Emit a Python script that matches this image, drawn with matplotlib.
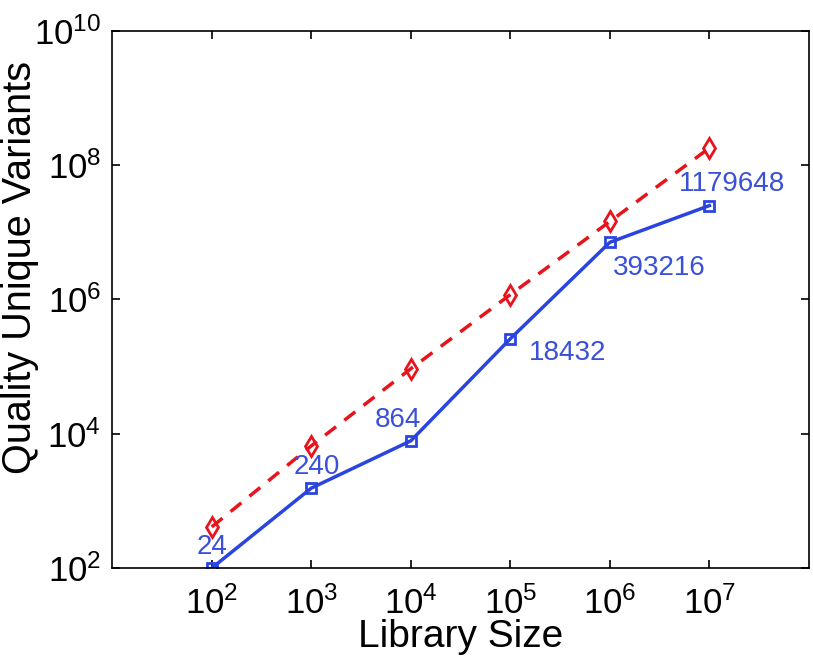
import matplotlib
matplotlib.use("Agg")
import matplotlib.pyplot as plt
from matplotlib.ticker import NullLocator

plt.rcParams['font.family'] = ['Liberation Sans', 'DejaVu Sans']
plt.rcParams['mathtext.fontset'] = 'custom'
plt.rcParams['mathtext.rm'] = 'Liberation Sans'
plt.rcParams['mathtext.it'] = 'Liberation Sans'

lib_size = [1e2, 1e3, 1e4, 1e5, 1e6, 1e7]
blue_vals = [100, 1550, 7850, 2.6e5, 7.1e6, 2.5e7]
red_vals = [410, 6600, 9.3e4, 1.18e6, 1.45e7, 1.8e8]
labels = ['24', '240', '864', '18432', '393216', '1179648']
# label offsets in points (dx, dy) and alignment
label_pos = [(0, 6, 'center', 'bottom'),
             (4, 6, 'center', 'bottom'),
             (-9, 6, 'center', 'bottom'),
             (13, -1, 'left', 'top'),
             (2, -9, 'left', 'top'),
             (-22, 6, 'left', 'bottom')]

blue = '#2a44e0'
red = '#e8141c'

W, H = 813, 656
fig = plt.figure(figsize=(W / 100, H / 100), dpi=100)
ax = fig.add_axes([0.138, 0.134, 0.857, 0.819])

ax.plot(lib_size, red_vals, '--', color=red, lw=2.5, dashes=(4, 3),
        marker='d', ms=10, mfc='none', mec=red, mew=2)
ax.plot(lib_size, blue_vals, '-', color=blue, lw=2.5,
        marker='s', ms=7, mfc='none', mec=blue, mew=2)

for x, y, t, (dx, dy, ha, va) in zip(lib_size, blue_vals, labels, label_pos):
    ax.annotate(t, (x, y), xytext=(dx, dy), textcoords='offset points',
                ha=ha, va=va, color='#3a50d8', fontsize=20)

ax.set_xscale('log')
ax.set_yscale('log')
ax.set_xlim(1e1, 1e8)
ax.set_ylim(1e2, 1e10)
ax.set_xticks(lib_size)
ax.set_yticks([1e2, 1e4, 1e6, 1e8, 1e10])
ax.xaxis.set_minor_locator(NullLocator())
ax.yaxis.set_minor_locator(NullLocator())
ax.tick_params(direction='in', top=True, right=True, length=6, width=1.2,
               labelsize=25, pad=8)
ax.tick_params(axis='x', pad=13)
for s in ax.spines.values():
    s.set_linewidth(1.2)

ax.set_xlabel('Library Size', fontsize=28, labelpad=-1)
fig.text(20 / W, 1 - 267 / H, 'Quality Unique Variants', fontsize=28.5,
         rotation=90, ha='center', va='center')

fig.savefig('out.png', dpi=100)
